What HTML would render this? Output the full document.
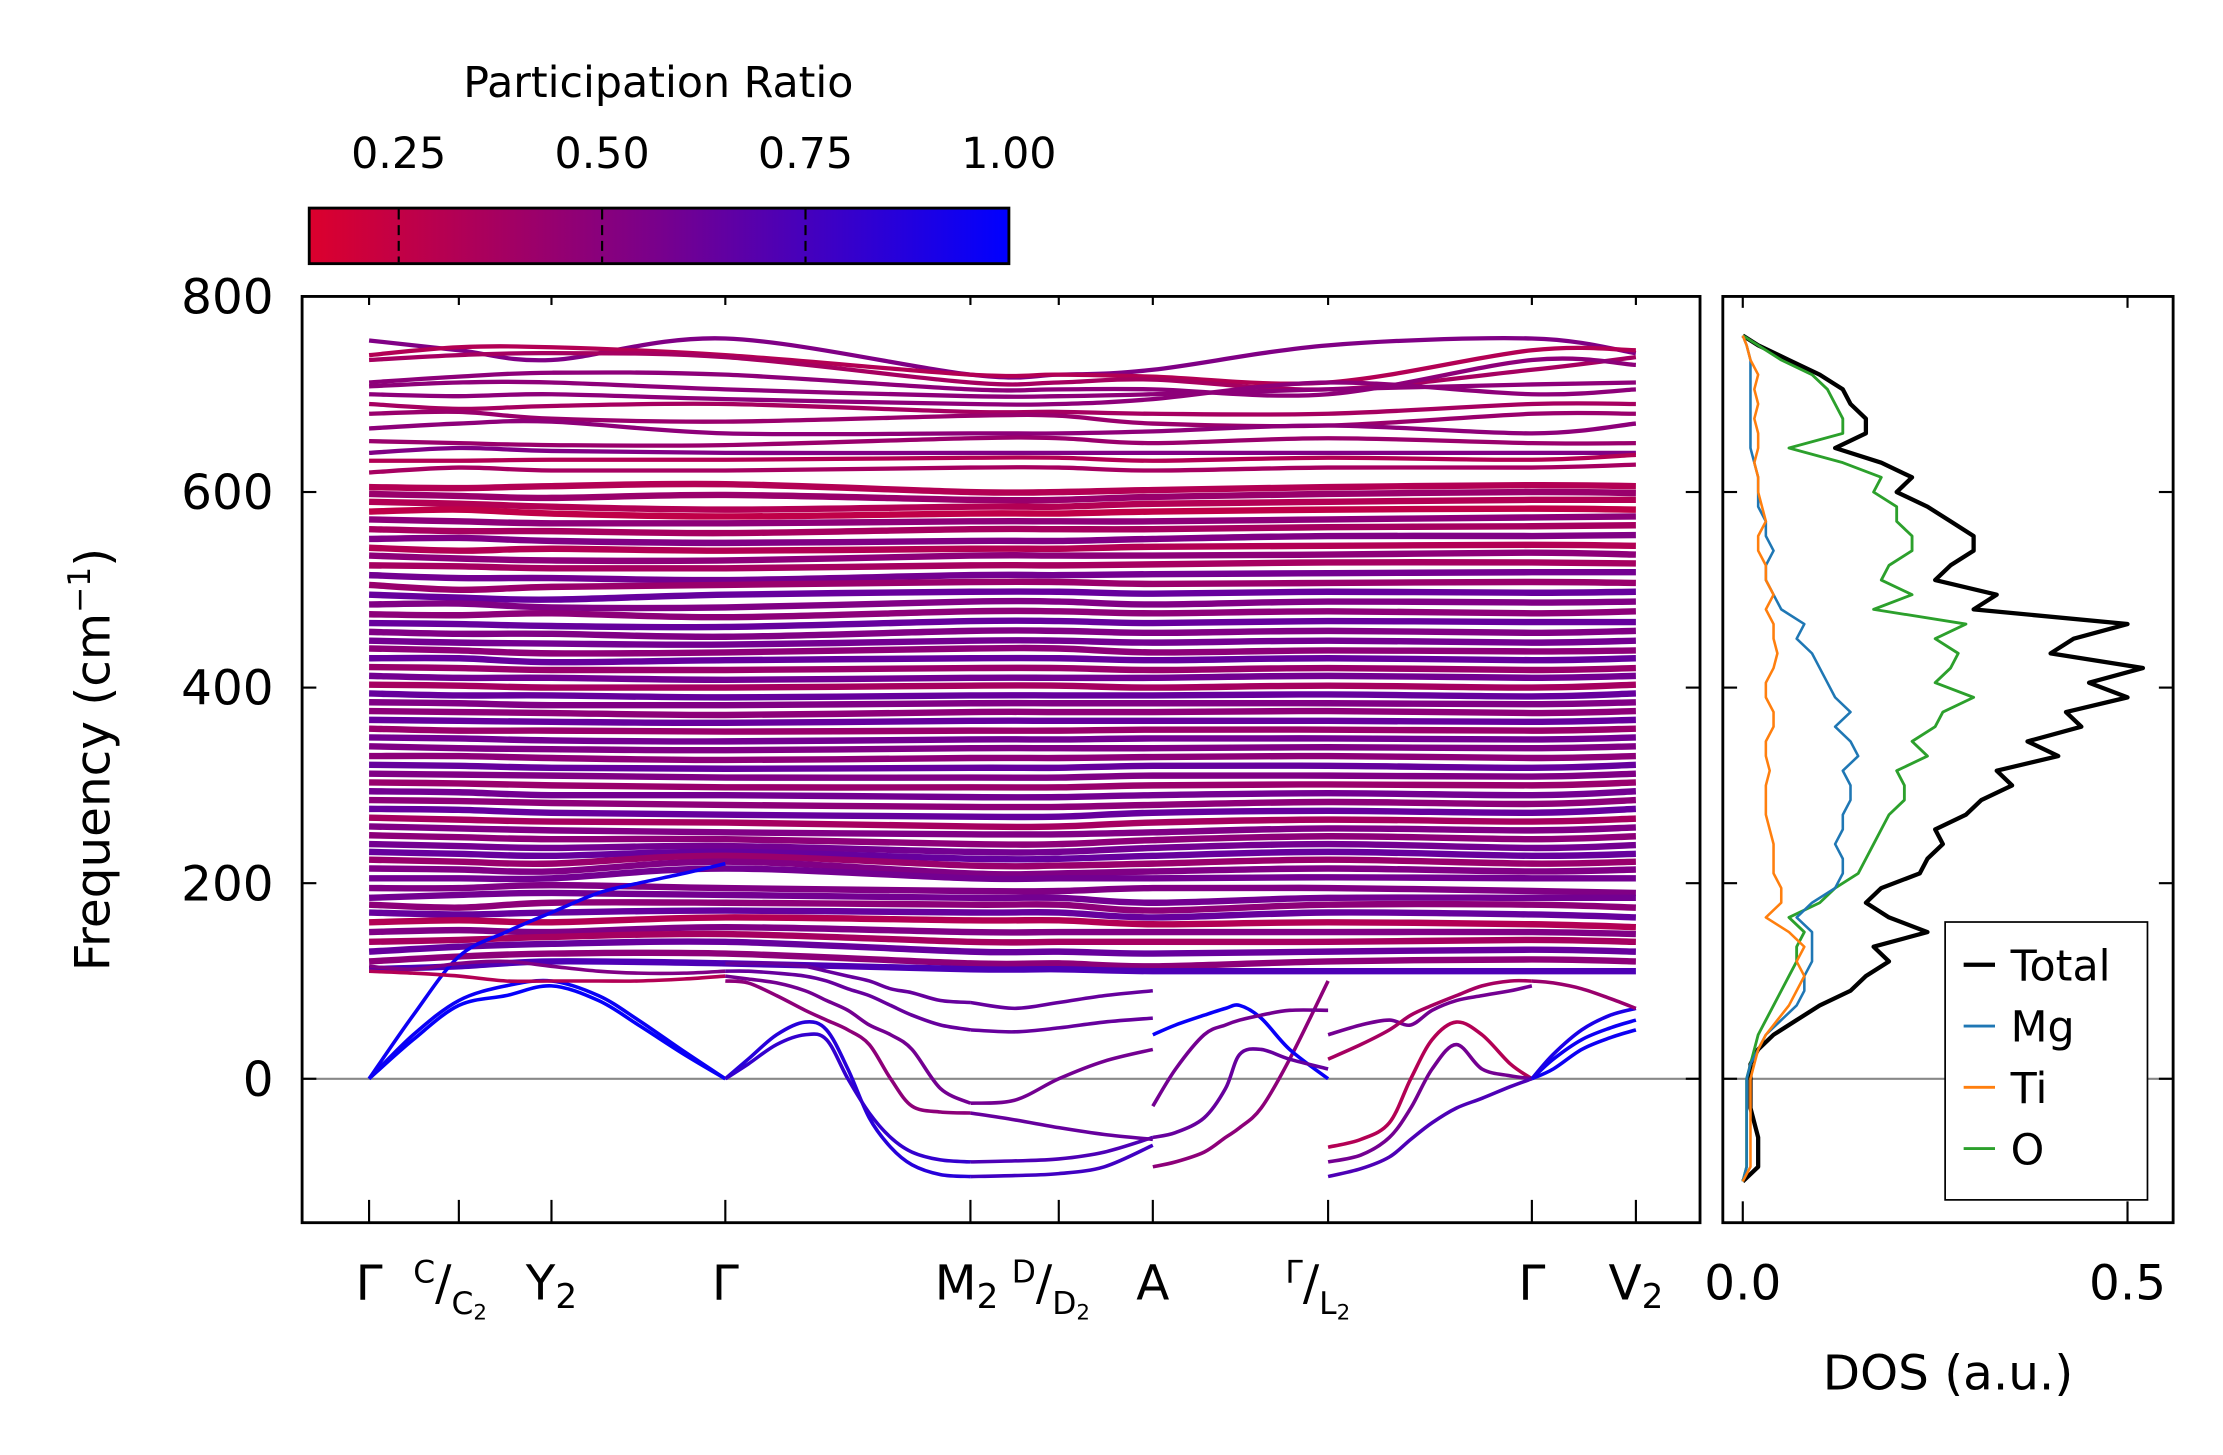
<!DOCTYPE html>
<html><head><meta charset="utf-8"><style>
html,body{margin:0;padding:0;background:#fff}
svg{display:block;font-family:"DejaVu Sans","Liberation Sans",sans-serif}
</style></head><body>
<svg id="chart" width="2223" height="1455" viewBox="0 0 1560 1021" xmlns="http://www.w3.org/2000/svg">
<defs>
<linearGradient id="cbg" x1="0" x2="1" y1="0" y2="0">
<stop offset="0" stop-color="rgb(220,0,45)"/><stop offset="0.5" stop-color="rgb(120,0,140)"/><stop offset="1" stop-color="rgb(0,0,255)"/>
</linearGradient>
<clipPath id="mainclip"><rect x="212" y="208" width="981" height="650"/></clipPath>
<clipPath id="dosclip"><rect x="1209" y="208" width="316" height="650"/></clipPath>
</defs>
<g id="colorbar">
<text x="462" y="68" font-size="30" text-anchor="middle">Participation Ratio</text>
<rect x="217" y="146" width="491" height="39" fill="url(#cbg)" stroke="#000" stroke-width="2"/>
</g>
<g id="bands" clip-path="url(#mainclip)"></g>
<g id="dos" clip-path="url(#dosclip)"></g>
<g id="axes"></g>
</svg>
<script>
// ---- data ----
const cbTicks = [0.25, 0.50, 0.75, 1.00];
const yTicks = [0, 200, 400, 600, 800];
const kLabelPos = [0, 63, 128, 250, 422, 484, 550, 673, 816, 889];
const kGridCoarse = [0, 63, 128, 250, 422, 484, 550, 673, 816, 889];
const topBands = [
[755,745,735,757,720,720,725,750,757,742],[740,748,748,740,720,720,718,712,745,745],
[735,740,742,738,712,712,715,705,725,738],[712,718,722,720,705,705,705,700,735,730],
[708,712,712,705,698,698,700,705,710,712],[700,698,700,695,690,690,695,712,700,705],
[690,685,688,690,682,682,680,680,690,690],[680,682,675,672,678,678,670,668,680,680],
[665,670,672,660,660,660,662,668,660,670],[652,650,648,648,655,655,650,655,650,650],
[640,645,642,640,640,640,640,640,640,640],[632,632,633,633,635,635,632,635,633,638],
[620,625,622,622,625,625,622,625,625,628]];
const topPR = [0.5,0.3,0.35,0.45,0.45,0.45,0.35,0.4,0.45,0.4,0.5,0.3,0.35];
const midBands = [
[605,604,606,608,600,600,602,605,607,606],[598,596,594,597,592,592,595,598,600,599],
[590,588,585,582,585,585,588,590,592,592],[580,582,578,575,578,578,580,582,583,582],
[572,570,568,568,570,570,570,572,574,575],[562,560,560,558,562,562,562,564,565,566],
[552,553,550,548,550,550,552,555,555,556],[543,540,542,540,542,542,544,545,546,545],
[535,532,530,530,535,535,535,536,538,536],[525,524,522,522,525,525,526,528,528,527],
[515,512,512,510,515,515,516,517,518,518],[505,500,503,505,508,508,506,507,508,507],
[495,492,490,495,498,498,496,498,497,498],[485,486,482,482,488,488,485,488,487,488],
[475,474,476,472,478,478,476,478,476,478],[466,465,463,462,468,468,466,468,467,467],
[457,455,455,452,458,458,456,458,456,458],[448,446,445,444,448,448,446,448,446,448],
[440,438,435,436,440,440,436,438,437,438],[430,430,426,428,430,430,428,430,428,430],
[421,420,418,418,420,420,418,420,418,420],[412,410,410,408,410,410,410,412,410,412],
[403,402,400,400,402,402,400,402,400,403],[394,392,392,390,392,392,392,393,391,394],
[385,384,382,382,384,384,384,384,383,385],[376,375,374,372,375,375,375,376,374,376],
[367,366,365,364,366,366,366,366,365,367],[358,356,356,355,356,356,357,357,356,358],
[349,348,346,345,347,347,348,348,347,349],[340,338,337,336,338,338,338,339,338,340],
[330,330,328,326,328,328,329,330,328,330],[321,320,318,317,318,318,320,320,318,321],
[312,311,310,308,308,308,310,310,309,312],[303,302,300,298,298,298,300,301,300,303],
[294,293,290,290,288,288,290,292,290,294],[285,284,282,280,278,278,280,283,281,285],
[276,275,272,270,268,268,272,274,272,276],[267,265,263,262,258,258,262,265,263,266],
[258,256,254,252,250,250,252,256,254,257],[249,247,245,245,240,240,244,248,245,248],
[240,238,236,238,232,232,236,240,236,239],[232,230,228,232,225,225,228,232,228,230],
[224,222,220,228,218,218,220,224,220,222],[215,214,212,222,210,210,212,215,212,214],
[205,205,205,215,205,205,205,206,205,205],
[195,195,198,195,192,192,195,195,192,190],[185,188,190,188,185,185,180,185,185,185],
[178,175,180,180,178,178,172,178,178,175],[170,168,170,172,170,170,165,170,168,165],
[160,162,160,165,162,162,158,160,158,155],[150,152,150,155,150,150,150,150,150,148],
[140,142,145,148,140,140,140,140,142,140],[130,135,138,140,130,130,128,130,132,130],
[120,125,128,128,118,118,115,120,122,120],[112,115,120,118,112,112,110,110,110,110]];
const midPR = [0.3,0.4,0.3,0.25,0.45,0.35,0.5,0.3,0.45,0.35,0.55,0.4,0.6,0.5,0.45,0.6,0.5,0.55,0.45,0.6,
0.4,0.55,0.35,0.6,0.5,0.45,0.6,0.4,0.55,0.5,0.45,0.6,0.5,0.4,0.55,0.45,0.6,0.35,0.5,0.45,
0.55,0.6,0.4,0.5,0.55,0.5,0.55,0.45,0.6,0.3,0.5,0.35,0.6,0.45,0.7];
// low-frequency bands per path segment (k = distance from first Γ)
const seg1K = [0,31,63,96,128,161,189,221,250];
const seg1Bands = [[0,40,75,85,95,80,55,25,0],[0,45,80,95,100,85,60,28,0],[0,65,125,150,170,190,200,210,220],
[110,108,105,100,100,100,100,102,105],[115,112,118,120,115,110,108,108,110]];
const seg1PR = [0.98,0.96,0.95,0.3,0.5];
const seg2K = [250,266,286,306,321,336,351,366,381,401,422];
const seg2Bands = [[0,20,45,58,50,10,-40,-70,-88,-98,-100],[0,15,35,45,40,0,-35,-60,-75,-83,-85],
[100,98,85,70,60,50,35,0,-28,-34,-35],[105,102,98,90,80,70,55,45,30,-10,-25],
[110,110,108,105,100,92,85,75,65,55,50],[118,118,118,115,110,105,100,92,88,80,78]];
const seg2PR = [0.85,0.8,0.45,0.55,0.6,0.6];
const seg3K = [422,453,484,516,550];
const seg3Bands = [[-100,-99,-97,-90,-68],[-85,-84,-82,-75,-60],[-35,-42,-50,-57,-62],
[-25,-22,0,18,30],[50,48,52,58,62],[78,72,78,85,90]];
const seg3PR = [0.75,0.7,0.6,0.55,0.6,0.6];
const seg4K = [550,566,586,601,611,626,646,673];
const seg4Bands = [[-90,-85,-75,-60,-50,-30,20,100],[45,55,65,72,75,62,30,0],
[-60,-55,-40,-10,25,30,20,10],[-28,10,45,55,60,65,70,70]];
const seg4PR = [0.45,0.97,0.6,0.55];
const seg5K = [673,696,716,731,746,763,781,801,816];
const seg5Bands = [[-70,-62,-45,0,40,58,45,15,0],[-85,-78,-60,-30,10,35,10,3,0],
[-100,-92,-80,-62,-45,-30,-20,-8,0],[45,55,60,55,70,80,85,90,95],[20,35,50,65,75,85,95,100,100]];
const seg5PR = [0.3,0.55,0.7,0.55,0.35];
const seg6K = [816,831,851,871,889];
const seg6Bands = [[0,20,40,52,60],[0,10,30,42,50],[0,25,50,65,72],[100,98,92,82,72]];
const seg6PR = [0.95,0.95,0.9,0.4];
const dosFreq = [-105,-90,-75,-60,-45,-30,-15,0,15,30,45,60,75,90,105,120,135,150,165,180,195,210,225,240,255,270,285,300,315,330,345,360,375,390,405,420,435,450,465,480,495,510,525,540,555,570,585,600,615,630,645,660,675,690,705,720,735,750,760];
const dosTotal = [0,0.02,0.02,0.02,0.015,0.01,0.01,0.01,0.01,0.02,0.04,0.07,0.10,0.14,0.16,0.19,0.17,0.24,0.19,0.16,0.18,0.23,0.24,0.26,0.25,0.29,0.31,0.35,0.33,0.41,0.37,0.44,0.42,0.50,0.45,0.52,0.40,0.43,0.50,0.30,0.33,0.25,0.27,0.30,0.30,0.27,0.24,0.20,0.22,0.18,0.12,0.16,0.16,0.14,0.13,0.10,0.06,0.02,0];
const dosMg = [0,0.005,0.005,0.005,0.005,0.005,0.005,0.005,0.01,0.02,0.03,0.05,0.07,0.08,0.08,0.09,0.09,0.09,0.07,0.09,0.12,0.13,0.13,0.12,0.13,0.13,0.14,0.14,0.13,0.15,0.14,0.12,0.14,0.12,0.11,0.10,0.09,0.07,0.08,0.05,0.04,0.03,0.03,0.04,0.03,0.03,0.02,0.02,0.02,0.015,0.01,0.01,0.01,0.01,0.01,0.01,0.01,0.005,0];
const dosTi = [0,0.01,0.01,0.01,0.01,0.01,0.01,0.01,0.015,0.02,0.03,0.045,0.06,0.07,0.08,0.07,0.08,0.06,0.03,0.05,0.05,0.04,0.04,0.04,0.035,0.03,0.03,0.03,0.035,0.03,0.03,0.04,0.04,0.03,0.03,0.04,0.045,0.04,0.04,0.03,0.04,0.03,0.03,0.02,0.02,0.03,0.025,0.02,0.02,0.015,0.02,0.02,0.015,0.02,0.015,0.02,0.01,0.005,0];
const dosO = [0,0.005,0.005,0.005,0.005,0.005,0.005,0.005,0.01,0.015,0.02,0.03,0.04,0.05,0.06,0.07,0.07,0.08,0.06,0.10,0.12,0.15,0.16,0.17,0.18,0.19,0.21,0.21,0.20,0.24,0.22,0.25,0.26,0.30,0.25,0.27,0.28,0.25,0.29,0.17,0.22,0.18,0.19,0.22,0.22,0.20,0.20,0.17,0.18,0.13,0.06,0.13,0.13,0.12,0.11,0.09,0.05,0.02,0];
const dosTicks = [0.0, 0.5];

// ---- scales ----
const NS = 'http://www.w3.org/2000/svg';
const X = k => 259 + k;
const Y = f => 757 - f * 0.68625;
const DX = v => 1223 + v * 540;
const CB = p => 217 + (p - 0.14) / 0.86 * 491;
function prColor(p){
  const t = Math.max(0, Math.min(1, (p - 0.14) / 0.86));
  const r = Math.round(220 * (1 - t)), b = Math.round(45 + 210 * t);
  return `rgb(${r},0,${b})`;
}
function el(tag, attrs, parent){
  const e = document.createElementNS(NS, tag);
  for (const k in attrs) e.setAttribute(k, attrs[k]);
  parent.appendChild(e); return e;
}
function smoothPath(xs, ys){
  const P = xs.map((x, i) => [X(x), Y(ys[i])]);
  let d = `M${P[0][0]},${P[0][1]}`;
  for (let i = 0; i < P.length - 1; i++){
    const p0 = P[i-1] || P[i], p1 = P[i], p2 = P[i+1], p3 = P[i+2] || P[i+1];
    const c1 = [p1[0] + (p2[0]-p0[0])/6, p1[1] + (p2[1]-p0[1])/6];
    const c2 = [p2[0] - (p3[0]-p1[0])/6, p2[1] - (p3[1]-p1[1])/6];
    d += `C${c1[0]},${c1[1]} ${c2[0]},${c2[1]} ${p2[0]},${p2[1]}`;
  }
  return d;
}
const gB = document.getElementById('bands');
const gD = document.getElementById('dos');
const gA = document.getElementById('axes');
const gC = document.getElementById('colorbar');

cbTicks.forEach(t => {
  const x = CB(t);
  if (t < 1) {
    const l = el('line', {x1:x, x2:x, y1:147, y2:184, stroke:'#000', 'stroke-width':1.5, 'stroke-dasharray':'7,4'}, gC);
    
    
  }
  const tx = el('text', {x:x, y:118, 'font-size':30, 'text-anchor':'middle'}, gC);
  tx.textContent = t.toFixed(2);
  
  
});

const z1 = el('line', {x1:212, x2:1193, y1:Y(0), y2:Y(0), stroke:'#888', 'stroke-width':1.5}, gB);



function drawBands(arr, pr, grid, w, name){
  arr.forEach((b, i) => {
    const p = el('path', {d:smoothPath(grid, b), fill:'none', stroke:prColor(pr[i % pr.length]), 'stroke-width':w, 'stroke-linecap':'butt'}, gB);
    
    
  });
}
drawBands(midBands, midPR, kGridCoarse, 4.5, 'phonon-band');
drawBands(topBands, topPR, kGridCoarse, 3, 'phonon-band-high');
drawBands(seg1Bands, seg1PR, seg1K, 2.5, 'phonon-band-low');
drawBands(seg2Bands, seg2PR, seg2K, 2.5, 'phonon-band-low');
drawBands(seg3Bands, seg3PR, seg3K, 2.5, 'phonon-band-low');
drawBands(seg4Bands, seg4PR, seg4K, 2.5, 'phonon-band-low');
drawBands(seg5Bands, seg5PR, seg5K, 2.5, 'phonon-band-low');
drawBands(seg6Bands, seg6PR, seg6K, 2.5, 'phonon-band-low');

const z2 = el('line', {x1:1209, x2:1525, y1:Y(0), y2:Y(0), stroke:'#888', 'stroke-width':1.5}, gD);


const dosSeries = [[dosTotal,'#000',3,'dos-total'],[dosO,'#2ca02c',2,'dos-o'],[dosMg,'#1f77b4',1.8,'dos-mg'],[dosTi,'#ff7f0e',1.8,'dos-ti']];
dosSeries.forEach(s => {
  const pts = dosFreq.map((f, i) => `${DX(s[0][i])},${Y(f)}`).join(' ');
  const pl = el('polyline', {points:pts, fill:'none', stroke:s[1], 'stroke-width':s[2], 'stroke-linejoin':'round'}, gD);
  
  
});

const f1 = el('rect', {x:212, y:208, width:981, height:650, fill:'none', stroke:'#000', 'stroke-width':2}, gA);


const f2 = el('rect', {x:1209, y:208, width:316, height:650, fill:'none', stroke:'#000', 'stroke-width':2}, gA);



yTicks.forEach(t => {
  const y = Y(t);
  [[212,222],[1193,1183],[1209,1219],[1525,1515]].forEach(([a,b]) => {
    const l = el('line', {x1:a, x2:b, y1:y, y2:y, stroke:'#000', 'stroke-width':1.5}, gA);
    
    
  });
  const tx = el('text', {x:192, y:y + 12, 'font-size':34, 'text-anchor':'end'}, gA);
  tx.textContent = String(t);
  
  
});
kLabelPos.forEach(k => {
  const x = X(k);
  const l1 = el('line', {x1:x, x2:x, y1:858, y2:842, stroke:'#000', 'stroke-width':1.5}, gA);
  
  
  const l2 = el('line', {x1:x, x2:x, y1:208, y2:214, stroke:'#000', 'stroke-width':1.5}, gA);
  
  
});
dosTicks.forEach(t => {
  const x = DX(t);
  const l1 = el('line', {x1:x, x2:x, y1:858, y2:843, stroke:'#000', 'stroke-width':1.5}, gA);
  
  
  const l2 = el('line', {x1:x, x2:x, y1:208, y2:216, stroke:'#000', 'stroke-width':1.5}, gA);
  
  
  const tx = el('text', {x:x, y:912, 'font-size':34, 'text-anchor':'middle'}, gA);
  tx.textContent = t.toFixed(1);
  
  
});
</script>
<svg style="position:absolute;left:0;top:0" width="2223" height="1455" viewBox="0 0 1560 1021" xmlns="http://www.w3.org/2000/svg" font-family="DejaVu Sans, Liberation Sans, sans-serif">
<text transform="translate(77,533) rotate(-90)" font-size="34" text-anchor="middle">Frequency (cm<tspan font-size="22" dy="-14">−1</tspan><tspan dy="14">)</tspan></text>
<g font-size="34">
<text x="259" y="912" text-anchor="middle">Γ</text>
<text x="290" y="912"><tspan font-size="22" dy="-12">C</tspan><tspan dy="12">/</tspan><tspan font-size="22" dy="10">C</tspan><tspan font-size="15" dy="4">2</tspan></text>
<text x="387" y="912" text-anchor="middle">Y<tspan font-size="24" dy="6">2</tspan></text>
<text x="509" y="912" text-anchor="middle">Γ</text>
<text x="656" y="912">M<tspan font-size="24" dy="6">2</tspan></text>
<text x="710" y="912"><tspan font-size="22" dy="-12">D</tspan><tspan dy="12">/</tspan><tspan font-size="22" dy="10">D</tspan><tspan font-size="15" dy="4">2</tspan></text>
<text x="809" y="912" text-anchor="middle">A</text>
<text x="902" y="912"><tspan font-size="22" dy="-12">Γ</tspan><tspan dy="12">/</tspan><tspan font-size="22" dy="10">L</tspan><tspan font-size="15" dy="4">2</tspan></text>
<text x="1075" y="912" text-anchor="middle">Γ</text>
<text x="1148" y="912" text-anchor="middle">V<tspan font-size="24" dy="6">2</tspan></text>
</g>
<text x="1367" y="975" font-size="34" text-anchor="middle">DOS (a.u.)</text>
<g>
<rect x="1365" y="647" width="142" height="195" fill="#fff" stroke="#000" stroke-width="1.2"/>
<line x1="1378" x2="1400" y1="677" y2="677" stroke="#000" stroke-width="3"/>
<text x="1411" y="688" font-size="30">Total</text>
<line x1="1378" x2="1400" y1="720" y2="720" stroke="#1f77b4" stroke-width="2"/>
<text x="1411" y="731" font-size="30">Mg</text>
<line x1="1378" x2="1400" y1="763" y2="763" stroke="#ff7f0e" stroke-width="2"/>
<text x="1411" y="774" font-size="30">Ti</text>
<line x1="1378" x2="1400" y1="806" y2="806" stroke="#2ca02c" stroke-width="2"/>
<text x="1411" y="817" font-size="30">O</text>
</g>
</svg>
</body></html>
